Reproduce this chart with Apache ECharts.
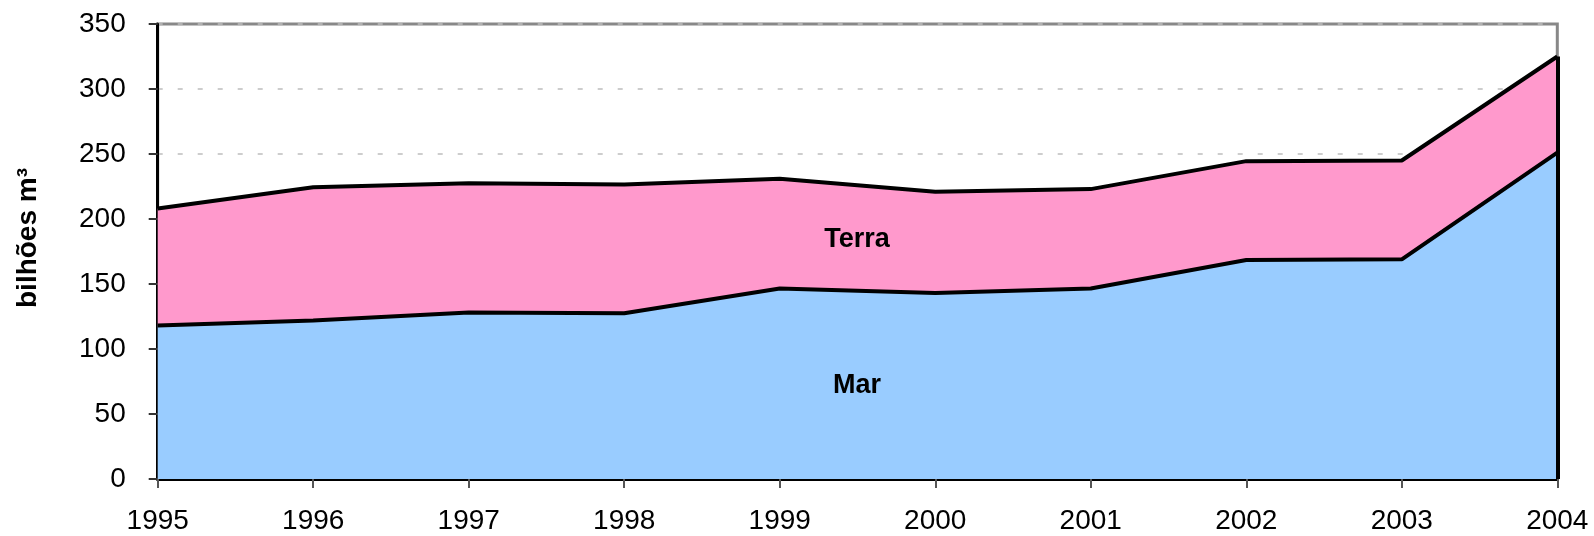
<!DOCTYPE html>
<html>
<head>
<meta charset="utf-8">
<script src="https://cdn.jsdelivr.net/npm/echarts@6/dist/echarts.min.js"></script>
<style>html,body{margin:0;padding:0;background:#fff}#c{width:1594px;height:536px}</style>
</head>
<body>
<div id="c"></div>
<script>
var years = ['1995','1996','1997','1998','1999','2000','2001','2002','2003','2004'];
var mar   = [118, 122, 128, 127.5, 146.5, 143, 146.5, 168.5, 169, 251];
var terra = [90, 102.5, 99.5, 99, 84.5, 78, 76.5, 76, 76, 74];
var yTicks = [0, 50, 100, 150, 200, 250, 300, 350];
var yName = 'bilhões m³';
var seriesNames = ['Mar', 'Terra'];

var totals = mar.map(function (v, i) { return v + terra[i]; });
var last = years.length - 1;
var FONT = 'Liberation Sans';

var chart = echarts.init(document.getElementById('c'));
chart.setOption({
  animation: false,
  textStyle: { fontFamily: FONT },
  grid: { left: 157.7, right: 36.7, top: 24, bottom: 57, show: true, borderColor: '#888', borderWidth: 3, backgroundColor: 'transparent' },
  xAxis: {
    type: 'category', data: years, boundaryGap: false,
    axisLine: { lineStyle: { color: '#000', width: 3 } },
    axisTick: { length: 9, lineStyle: { color: '#555', width: 2 } },
    axisLabel: { color: '#000', fontSize: 28, margin: 28, fontFamily: FONT },
    splitLine: { show: false }
  },
  yAxis: {
    type: 'value', min: yTicks[0], max: yTicks[yTicks.length - 1], interval: 50,
    axisLine: { show: true, lineStyle: { color: '#000', width: 3 } },
    axisTick: { show: true, length: 9, lineStyle: { color: '#333', width: 2 } },
    axisLabel: { color: '#000', fontSize: 28, margin: 32, fontFamily: FONT },
    splitLine: { show: true, lineStyle: { color: '#bdbdbd', width: 1.5, type: [5, 15] } }
  },
  series: [
    {
      name: seriesNames[0], type: 'line', stack: 'all', data: mar, symbol: 'none',
      lineStyle: { color: '#000', width: 4 },
      areaStyle: { color: '#99CCFF', opacity: 1 },
      z: 2
    },
    {
      name: seriesNames[1], type: 'line', stack: 'all', data: terra, symbol: 'none',
      lineStyle: { color: '#000', width: 4 },
      areaStyle: { color: '#FF99CC', opacity: 1 },
      z: 2,
      markLine: {
        silent: true, symbol: 'none', label: { show: false },
        lineStyle: { color: '#000', width: 4, type: 'solid' },
        data: [[{ coord: [years[last], 0] }, { coord: [years[last], totals[last]] }]]
      }
    }
  ],
  graphic: [
    { type: 'text', x: 857, y: 240, style: { text: seriesNames[1], font: 'bold 27px "' + FONT + '"', fill: '#000', align: 'center', verticalAlign: 'middle' }, z: 10 },
    { type: 'text', x: 857, y: 386, style: { text: seriesNames[0], font: 'bold 27px "' + FONT + '"', fill: '#000', align: 'center', verticalAlign: 'middle' }, z: 10 },
    { type: 'text', x: 28, y: 238, rotation: Math.PI / 2, style: { text: yName, font: 'bold 28px "' + FONT + '"', fill: '#000', align: 'center', verticalAlign: 'middle' }, z: 10 }
  ]
});
</script>
</body>
</html>
